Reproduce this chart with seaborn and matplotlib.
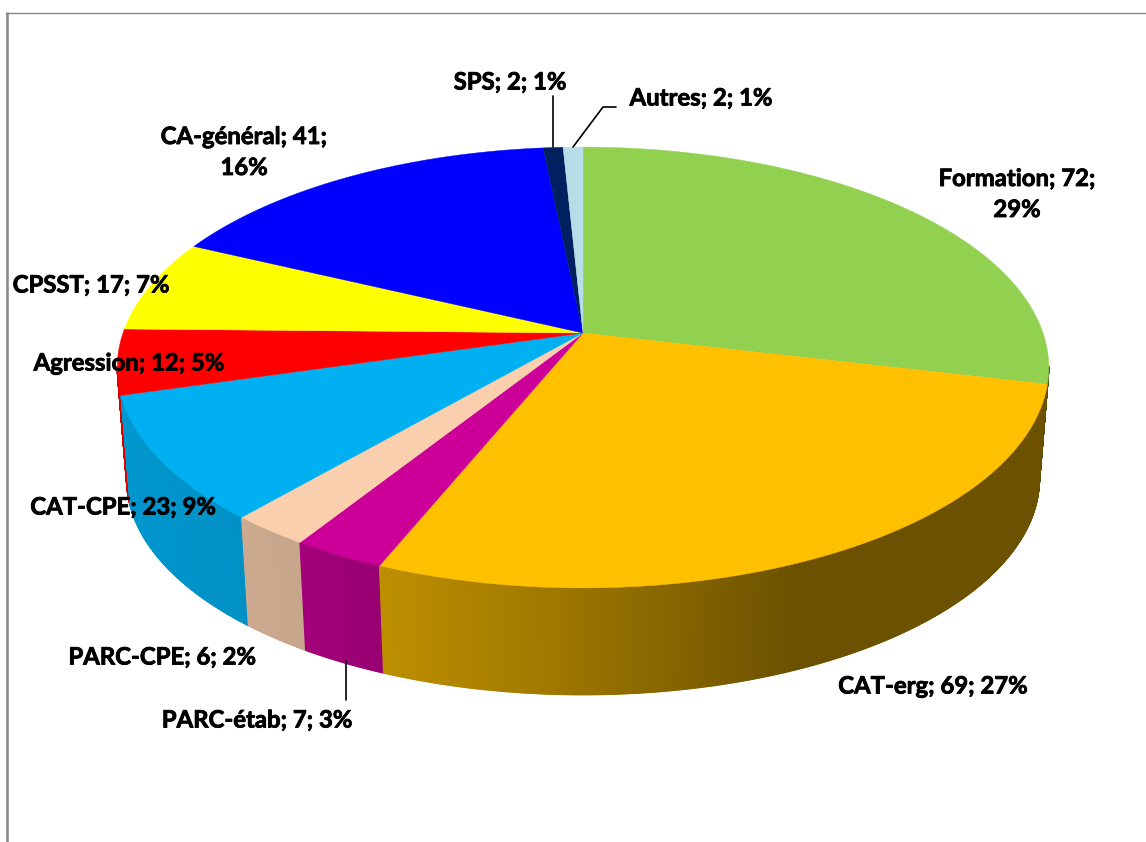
import numpy as np
import matplotlib

matplotlib.use("Agg")
import matplotlib.pyplot as plt
import matplotlib.patheffects as pe
import seaborn as sns

# ===================== data =====================
categories = ["Formation", "CAT-erg", "PARC-étab", "PARC-CPE", "CAT-CPE",
              "Agression", "CPSST", "CA-général", "SPS", "Autres"]
counts = [72, 69, 7, 6, 23, 12, 17, 41, 2, 2]
percents = [29, 27, 3, 2, 9, 5, 7, 16, 1, 1]
colors = ["#92D050", "#FFC000", "#CC0099", "#F9CFAE", "#00B0F0",
          "#FF0000", "#FFFF00", "#0000FF", "#002060", "#B7DEE8"]
two_lines = ["Formation", "CA-général"]  # ces deux-la passent sur 2 lignes
label_pos = [(1017, 194), (933, 686), (257, 720), (162, 657), (123, 507),
             (129, 363), (91, 285), (244, 152), (510, 82), (701, 98)]

# géométrie du camembert en perspective (pixels de l'image)
CX, CY = 583, 333
RX, RY = 460, 215
K = 0.1565
DEPTH = 112
LOW_SCALE = 0.98


def top_xy(theta):
    u, v = np.sin(theta), np.cos(theta)
    w = 1 + K * v
    return CX + RX * u / w, CY - RY * v / w


def low_xy(theta):
    u, v = np.sin(theta), np.cos(theta)
    w = 1 + K * v
    return CX + LOW_SCALE * RX * u / w, CY + DEPTH - LOW_SCALE * RY * v / w


def shade(x):
    # le flanc s'assombrit de gauche a droite
    return np.interp(x, [120, 300, 385, 560, 800, 1050],
                     [0.86, 0.80, 0.74, 0.62, 0.42, 0.42])


sns.set_theme(style="white")
plt.rcParams["font.family"] = ["Lato", "DejaVu Sans"]
palette = sns.color_palette(colors)

fig = plt.figure(figsize=(11.46, 8.42), dpi=100)
ax = fig.add_axes([0, 0, 1, 1])
ax.set_xlim(0, 1146)
ax.set_ylim(842, 0)
ax.axis("off")

angles = np.cumsum([0] + counts) / sum(counts) * 2 * np.pi

# flancs : du fond vers l'avant, la partie arriere reste cachee
segments = []
for i, col in enumerate(palette):
    t = np.linspace(angles[i], angles[i + 1], max(3, counts[i] * 12))
    for a, b in zip(t[:-1], t[1:]):
        segments.append((np.cos((a + b) / 2), a, b, np.array(col)))
segments = [s for s in segments if s[0] < -0.15]
segments.sort(key=lambda s: -s[0])

for _, a, b, base in segments:
    xa, ya = top_xy(a)
    xb, yb = top_xy(b)
    xc, yc = low_xy(b)
    xd, yd = low_xy(a)
    c = tuple(base * shade((xa + xb) / 2))
    ax.fill([xa, xb, xc, xd], [ya, yb, yc, yd], color=c, lw=0.8, zorder=2)

# dessus
for i, col in enumerate(palette):
    t = np.linspace(angles[i], angles[i + 1], 120)
    x, y = top_xy(t)
    ax.fill(np.r_[CX, x], np.r_[CY, y], color=col, lw=0.3, zorder=3)

# cadre
ax.plot([7, 7], [842, 12], color="#868686", lw=1.8, zorder=1, solid_capstyle="butt")
ax.plot([6, 1146], [12.5, 12.5], color="#868686", lw=1.0, zorder=1)

# traits de rappel
ax.plot([553, 553], [96, 147], color="black", lw=1.2, zorder=4)
ax.plot([616, 611, 603, 573], [107, 107, 107, 147], color="black", lw=1.2, zorder=4)
ax.plot([346, 346], [661, 700], color="black", lw=1.2, zorder=4)

# étiquettes, un peu epaissies pour se rapprocher du gras d'origine
for name, n, p, (x, y) in zip(categories, counts, percents, label_pos):
    sep = ";\n" if name in two_lines else "; "
    ax.text(x, y, f"{name}; {n}{sep}{p}%", ha="center", va="center",
            fontsize=17.2, fontweight="bold", color="black", zorder=5,
            linespacing=1.42,
            path_effects=[pe.withStroke(linewidth=0.6, foreground="black")])

fig.savefig("out.png", dpi=100, facecolor="white")
